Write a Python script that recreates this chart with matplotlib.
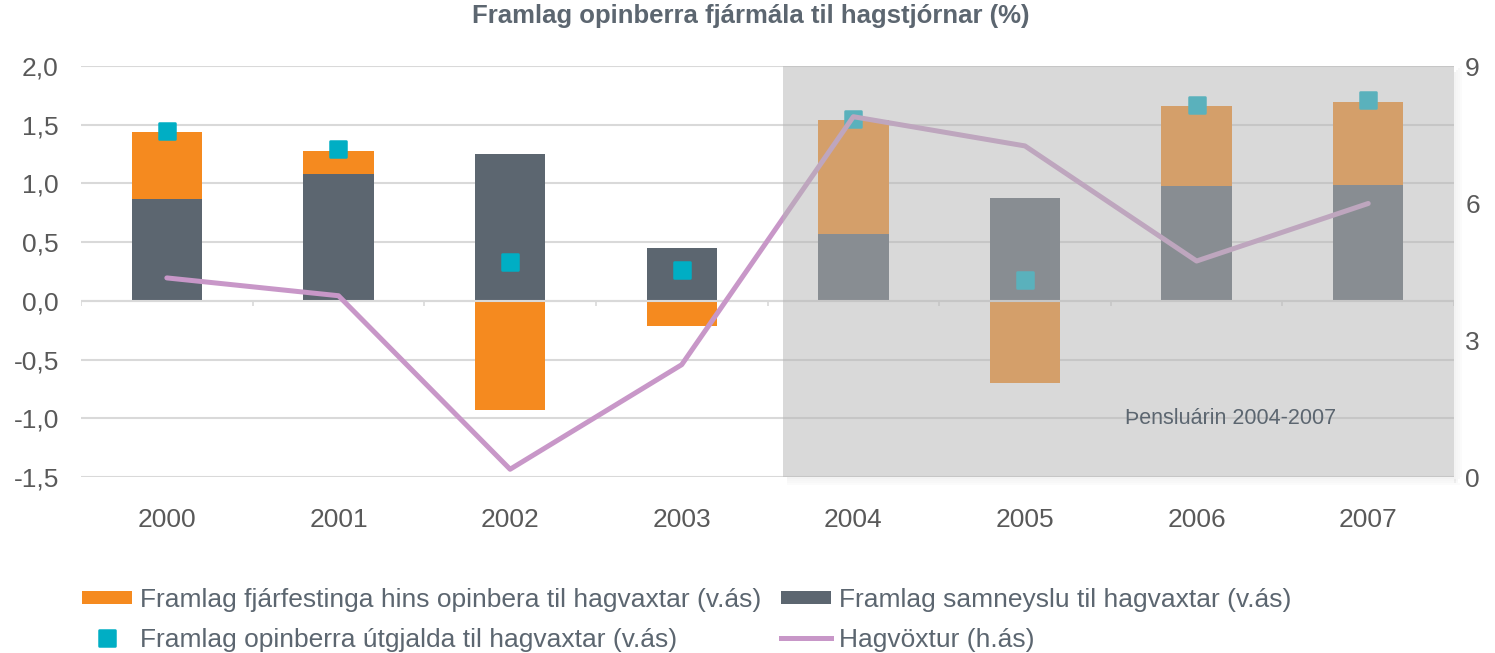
import matplotlib
matplotlib.use("Agg")
import matplotlib.pyplot as plt
import numpy as np
from matplotlib.patches import Rectangle, Patch
from matplotlib.lines import Line2D
from matplotlib.markers import MarkerStyle
from matplotlib.ticker import FuncFormatter

# Gögn lesin af myndinni
ar = ["2000", "2001", "2002", "2003", "2004", "2005", "2006", "2007"]
samneysla = [0.87, 1.08, 1.25, 0.45, 0.57, 0.88, 0.98, 0.99]
fjarfesting = [0.57, 0.20, -0.93, -0.21, 0.97, -0.70, 0.68, 0.70]
utgjold = [1.45, 1.29, 0.33, 0.26, 1.55, 0.18, 1.67, 1.71]
hagvoxtur = [4.36, 3.97, 0.17, 2.46, 7.89, 7.25, 4.73, 5.99]

lbl_fjarf = "Framlag fjárfestinga hins opinbera til hagvaxtar (v.ás)"
lbl_samn = "Framlag samneyslu til hagvaxtar (v.ás)"
lbl_utgj = "Framlag opinberra útgjalda til hagvaxtar (v.ás)"
lbl_hagv = "Hagvöxtur (h.ás)"

ORANGE = "#F58A1F"
SLATE = "#5C6670"
TEAL = "#00AEC4"
LILAC = "#C897C8"
GRID = "#D9D9D9"
TXT = "#595959"

plt.rcParams["font.family"] = ["Liberation Sans", "DejaVu Sans"]

fig = plt.figure(figsize=(14.95, 6.53), dpi=100)
ax_rect = [0.0542, 0.2695, 0.9184, 0.6294]
ax = fig.add_axes(ax_rect)

x = np.arange(len(ar))
samn = np.array(samneysla)
fjarf = np.array(fjarfesting)
# jákvæð framlög staflast ofan á samneyslu, neikvæð fara niður frá núlli
botn = np.where(fjarf >= 0, samn, 0)

breidd = 0.41
ax.bar(x, samn, width=breidd, color=SLATE, zorder=2)
ax.bar(x, fjarf, width=breidd, bottom=botn, color=ORANGE, zorder=2)

ferningur = MarkerStyle("s", joinstyle="round")
ax.plot(x, utgjold, linestyle="none", marker=ferningur, markersize=11,
        markerfacecolor=TEAL, markeredgecolor=TEAL, markeredgewidth=1.8, zorder=4)

ax.axhline(0, color=GRID, lw=1.5, zorder=3)
ax.vlines(np.arange(len(ar) + 1) - 0.5, -0.045, 0, color=GRID, lw=1.2, zorder=3)

ax.set_xlim(-0.5, len(ar) - 0.5)
ax.set_ylim(-1.5, 2.0)
ax.set_yticks(np.arange(-1.5, 2.01, 0.5))
ax.yaxis.set_major_formatter(FuncFormatter(lambda v, p: f"{v:.1f}".replace(".", ",")))
ax.set_xticks(x)
ax.set_xticklabels(ar)
ax.grid(axis="y", color=GRID, lw=1.5)
ax.set_axisbelow(True)
for s in ax.spines.values():
    s.set_visible(False)
ax.tick_params(axis="y", length=0, pad=16, labelsize=19, labelcolor=TXT)
ax.tick_params(axis="x", length=0, pad=22, labelsize=19, labelcolor=TXT)

ax2 = ax.twinx()
ax2.plot(x, hagvoxtur, color=LILAC, lw=3.6, solid_capstyle="round", zorder=3)
ax2.set_ylim(0, 9)
ax2.set_yticks([0, 3, 6, 9])
for s in ax2.spines.values():
    s.set_visible(False)
ax2.tick_params(axis="y", length=0, pad=8, labelsize=19, labelcolor=TXT)

# skyggða svæði fyrir þensluárin
skuggi_fra = 3.59
skuggi_til = len(ar) - 0.5
ax2.add_patch(Rectangle((skuggi_fra, 0), skuggi_til - skuggi_fra, 9,
                        facecolor="#B5B5B5", alpha=0.5, lw=0, zorder=10))

# mjúkur skuggi til hægri og niður
px_x = len(ar) / (ax_rect[2] * fig.get_figwidth() * fig.dpi)
px_y = 9 / (ax_rect[3] * fig.get_figheight() * fig.dpi)
for i in range(4):
    a = 0.09 - i * 0.02
    ax2.add_patch(Rectangle((skuggi_til + i * 2 * px_x, -6 * px_y + i * 2 * px_y),
                            2 * px_x, 9, facecolor="#808080", alpha=a, lw=0,
                            zorder=9, clip_on=False))
    ax2.add_patch(Rectangle((skuggi_fra + 4 * px_x, -(i + 1) * 2 * px_y),
                            skuggi_til - skuggi_fra - 4 * px_x + i * 2 * px_x,
                            2 * px_y, facecolor="#808080", alpha=a, lw=0,
                            zorder=9, clip_on=False))

ax2.text(6.2, 1.29, "Þensluárin 2004-2007", ha="center", va="center",
         fontsize=15.5, color=SLATE, zorder=11)

fig.text(0.502, 0.9648, "Framlag opinberra fjármála til hagstjórnar (%)",
         ha="center", va="baseline", fontsize=18.5, fontweight="bold", color=SLATE)

handles = [
    Patch(facecolor=ORANGE),
    Line2D([], [], linestyle="none", marker=ferningur, markersize=11,
           markerfacecolor=TEAL, markeredgecolor=TEAL, markeredgewidth=1.8),
    Patch(facecolor=SLATE),
    Line2D([], [], color=LILAC, lw=3.6),
]
labels = [lbl_fjarf, lbl_utgj, lbl_samn, lbl_hagv]
leg = fig.legend(handles, labels, loc="upper left", bbox_to_anchor=(0.0548, 0.100),
                 ncol=2, frameon=False, fontsize=19, handlelength=1.9,
                 handleheight=0.4, handletextpad=0.3, columnspacing=0.75,
                 labelspacing=0.6, borderpad=0, borderaxespad=0)
for t in leg.get_texts():
    t.set_color(SLATE)

fig.savefig("out.png", dpi=100)
plt.close(fig)
